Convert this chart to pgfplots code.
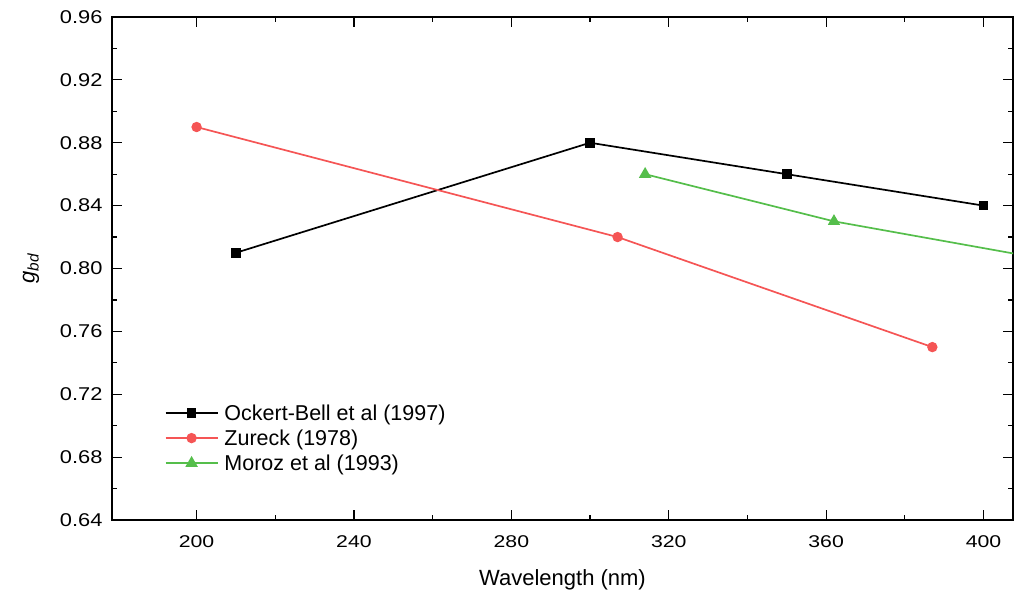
\documentclass[border=0pt]{standalone}
\usepackage{pgfplots}
\pgfplotsset{compat=1.18}
\usepackage{fontspec}
\setmainfont{Liberation Sans}
\newfontfamily\yfontfam{Liberation Sans}[FakeStretch=1.18]
\newfontfamily\xfontfam{Liberation Sans}[FakeStretch=1.25]
\newcommand\yfont{\yfontfam\fontsize{18.5}{22}\selectfont}
\newcommand\xfont{\xfontfam\fontsize{17}{20}\selectfont}
\definecolor{cblack}{RGB}{0,0,0}
\definecolor{cred}{RGB}{245,85,85}
\definecolor{cgreen}{RGB}{85,190,75}
\begin{document}
\begin{tikzpicture}
\useasboundingbox (-112pt,-76pt) rectangle (903pt,520pt);
\begin{axis}[
  scale only axis,
  width=901pt, height=503pt,
  xmin=178.5, xmax=407.5,
  ymin=0.64, ymax=0.96,
  xtick={200,240,...,400},
  ytick={0.64,0.68,...,0.97},
  minor tick num=1,
  tick align=inside,
  major tick length=10pt,
  minor tick length=5pt,
  every tick/.style={black, line width=1.2pt},
  axis line style={line width=1.6pt},
  /pgf/number format/assume math mode=true,
  yticklabel style={font=\yfont, xshift=-6pt, /pgf/number format/.cd, fixed, fixed zerofill, precision=2},
  xticklabel style={font=\xfont, yshift=-12pt},
  xlabel={Wavelength (nm)},
  xlabel style={font=\fontsize{22}{26}\selectfont, at={(axis description cs:0.5,0)}, anchor=center, yshift=-60pt},
  ylabel={\textit{g}\textsubscript{\textit{bd}}},
  ylabel style={font=\fontsize{22}{26}\selectfont, at={(axis description cs:-0.0899,0.5)}, anchor=center},
  legend style={draw=none, fill=none, at={(axis description cs:0.055,0.238)}, anchor=north west,
    font=\fontsize{21.5}{25}\selectfont, row sep=4pt,
    nodes={inner xsep=6pt}},
  legend cell align=left,
  legend image code/.code={\draw[mark repeat=2,mark phase=2,#1] plot coordinates {(0pt,0pt) (26pt,0pt) (52pt,0pt)};},
]
\addplot[cblack, line width=1.7pt, mark=square*, mark size=4pt, mark options={solid}]
  coordinates {(210,0.810) (300,0.880) (350,0.860) (400,0.840)};
\addlegendentry{Ockert-Bell et al (1997)}
\addplot[cred, line width=1.7pt, mark=*, mark size=4.3pt]
  coordinates {(200,0.890) (307,0.820) (387,0.750)};
\addlegendentry{Zureck (1978)}
\addplot[cgreen, line width=1.7pt, mark=triangle*, mark size=5.5pt]
  coordinates {(314,0.860) (362,0.830) (420,0.804)};
\addlegendentry{Moroz et al (1993)}
\end{axis}
\end{tikzpicture}
\end{document}
